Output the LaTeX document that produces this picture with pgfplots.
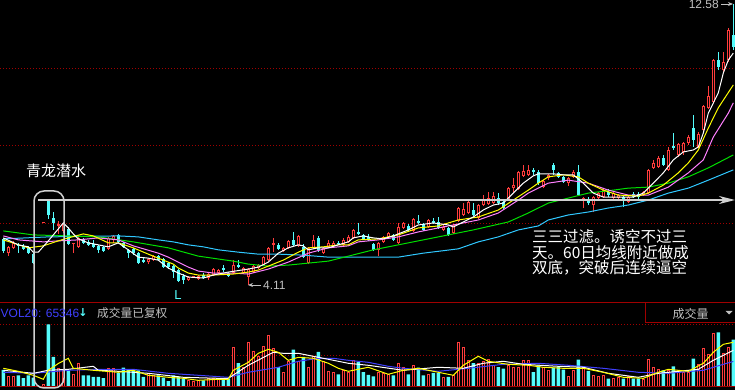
\documentclass[border=0pt]{standalone}
\usepackage{fontspec}
\setmainfont{Liberation Sans}
\newfontfamily\cjk{Noto Sans CJK SC}
\newfontfamily\dejavu{DejaVu Sans}
\usepackage{pgfplots}
\usepackage{pgfplotstable}
\pgfplotsset{compat=1.18}
\usetikzlibrary{arrows.meta}

\definecolor{cup}{HTML}{FF3C3C}
\definecolor{cdn}{HTML}{54FCFC}
\definecolor{mayel}{HTML}{FFFF00}
\definecolor{mamag}{HTML}{FF80FF}
\definecolor{magrn}{HTML}{00E000}
\definecolor{macyn}{HTML}{30C8FF}
\definecolor{dkred}{HTML}{A00000}
\definecolor{volblue}{HTML}{4040FF}
\definecolor{txtgray}{HTML}{C0C0C0}
\definecolor{anngray}{HTML}{D0D0D0}

% down (cyan) candles: index, body low, body high, low, high
\pgfplotstableread{
i bl bh l h
0 5.13 5.50 5.07 5.53
3 5.29 5.32 5.07 5.38
4 5.20 5.29 5.17 5.35
5 5.07 5.26 5.04 5.29
6 4.77 5.04 4.74 5.10
9 6.22 6.64 6.10 6.67
10 5.98 6.13 5.77 6.31
13 5.35 5.80 5.32 5.86
16 5.38 5.50 5.35 5.53
17 5.32 5.41 5.29 5.47
18 5.26 5.35 5.23 5.47
19 5.17 5.29 5.07 5.32
20 5.13 5.26 5.10 5.29
23 5.41 5.62 5.38 5.65
24 5.26 5.38 5.23 5.41
25 5.07 5.17 4.92 5.20
26 5.07 5.20 5.01 5.23
27 4.77 5.07 4.74 5.10
28 4.80 4.86 4.77 4.95
31 4.86 4.98 4.83 5.01
32 4.65 4.89 4.62 4.92
33 4.65 4.77 4.59 4.80
34 4.50 4.68 4.32 4.71
35 4.23 4.56 4.20 4.59
36 4.26 4.38 4.14 4.44
40 4.32 4.41 4.29 4.47
44 4.56 4.62 4.50 4.71
45 4.38 4.47 4.35 4.50
47 4.65 4.71 4.62 4.86
55 5.20 5.32 5.17 5.38
58 5.32 5.47 5.29 5.71
60 4.95 5.26 4.92 5.35
63 5.17 5.53 5.10 5.59
67 5.36 5.39 5.32 5.44
71 5.65 5.71 5.62 5.98
72 5.50 5.62 5.47 5.65
73 5.47 5.56 5.44 5.65
74 5.17 5.35 5.13 5.38
78 5.47 5.62 5.44 5.65
81 5.77 5.89 5.74 5.95
83 5.98 6.04 5.95 6.22
84 5.77 5.95 5.74 5.98
86 5.98 6.04 5.95 6.13
87 5.83 6.01 5.80 6.16
89 5.62 5.83 5.59 5.86
94 6.22 6.37 6.19 6.58
99 6.58 6.73 6.52 6.88
100 6.43 6.61 6.40 6.67
106 7.52 7.58 7.43 7.64
107 7.18 7.52 7.12 7.58
110 7.58 7.73 7.43 7.79
111 7.37 7.49 7.34 7.52
112 7.21 7.37 7.18 7.40
115 6.82 7.52 6.79 7.73
117 6.58 6.70 6.52 6.76
121 6.82 6.91 6.76 7.00
124 6.67 6.76 6.46 6.82
126 6.76 6.85 6.73 6.91
127 6.76 6.85 6.70 6.91
132 7.73 7.94 7.70 8.03
134 8.24 8.30 8.18 8.69
138 8.48 8.84 8.27 9.23
143 10.68 10.89 10.59 11.13
146 11.28 11.65 11.19 12.58
}\dntab

% up (red, hollow) candles
\pgfplotstableread{
i bl bh l h
1 5.07 5.26 4.98 5.29
2 5.23 5.38 5.20 5.44
12 5.74 5.95 5.68 6.01
15 5.26 5.53 5.23 5.56
21 5.20 5.53 5.17 5.56
22 5.47 5.59 5.38 5.62
29 4.80 4.89 4.74 4.92
30 4.86 4.98 4.83 5.01
37 4.26 4.35 4.23 4.38
39 4.29 4.38 4.26 4.41
41 4.32 4.44 4.26 4.47
42 4.41 4.59 4.38 4.62
43 4.47 4.56 4.44 4.59
46 4.47 4.71 4.44 4.86
48 4.47 4.62 4.44 4.65
49 4.35 4.59 4.11 4.62
50 4.50 4.68 4.47 4.71
51 4.62 4.71 4.59 4.74
52 4.71 4.95 4.68 4.98
53 4.86 5.23 4.83 5.26
56 5.13 5.23 5.10 5.26
57 5.23 5.44 5.20 5.47
59 5.29 5.59 5.26 5.62
61 4.77 5.23 4.74 5.26
62 5.23 5.47 5.20 5.62
64 5.07 5.23 5.04 5.26
65 5.26 5.38 5.23 5.47
66 5.29 5.38 5.26 5.44
68 5.32 5.47 5.29 5.53
69 5.41 5.56 5.38 5.62
70 5.53 5.77 5.50 5.80
75 5.17 5.38 4.98 5.41
76 5.41 5.56 5.38 5.59
77 5.56 5.68 5.53 5.71
79 5.38 5.86 5.35 5.98
80 5.83 5.98 5.80 6.01
82 5.74 6.10 5.71 6.13
85 5.86 6.07 5.83 6.10
88 5.77 5.86 5.74 5.92
90 5.68 5.92 5.65 5.95
91 6.04 6.43 6.01 6.46
92 6.22 6.40 6.19 6.58
93 6.28 6.61 6.25 6.64
95 6.13 6.52 6.10 6.55
96 6.52 6.67 6.49 6.82
97 6.55 6.73 6.52 6.91
98 6.58 6.79 6.55 6.91
101 6.67 7.03 6.64 7.06
102 7.03 7.12 6.91 7.34
103 7.00 7.52 6.97 7.55
104 7.40 7.55 7.37 7.73
105 7.43 7.58 7.40 7.73
108 7.06 7.25 7.03 7.27
109 7.34 7.43 7.27 7.46
113 7.18 7.34 7.09 7.37
114 7.37 7.52 7.34 7.58
116 6.67 6.73 6.43 6.76
118 6.52 6.76 6.31 6.79
119 6.73 6.88 6.70 6.91
120 6.76 6.97 6.73 7.00
122 6.73 6.88 6.70 6.91
123 6.73 6.82 6.70 6.85
125 6.61 6.76 6.58 6.79
128 6.82 6.91 6.79 6.94
129 6.88 7.58 6.85 7.61
130 7.64 7.79 7.61 7.88
131 7.67 7.94 7.64 8.00
133 7.58 8.18 7.55 8.27
135 8.03 8.36 7.97 8.39
136 8.12 8.39 8.03 8.42
137 8.39 8.57 8.33 8.63
139 8.27 8.66 8.24 8.72
140 8.78 9.51 8.75 9.54
141 9.45 9.81 9.41 10.11
142 9.63 10.89 9.60 10.92
144 10.59 10.83 10.53 11.13
145 10.89 11.80 10.83 11.86
}\uptab

% up candles with very small bodies (drawn solid)
\pgfplotstableread{
i bl bh l h
8 5.97 6.00 5.97 6.00
11 5.89 5.95 5.65 6.04
14 5.35 5.38 5.07 5.38
38 4.34 4.37 4.32 4.38
54 5.32 5.38 5.10 5.53
}\smtab

\pgfplotstableread{
i v
0 43500
3 29900
4 23000
5 29900
6 23800
9 160300
10 76700
13 42700
16 29900
17 29900
18 25600
19 25600
20 23000
23 35800
24 49300
25 44200
26 42700
27 42700
28 25600
31 29900
32 23800
33 15300
34 29900
35 25600
36 21200
40 17100
44 21200
45 21200
47 61300
55 51100
58 95300
60 76700
63 89500
67 32500
71 63900
72 38300
73 30700
74 27300
78 29900
81 32500
83 49300
84 29900
86 35800
87 35800
89 25600
94 61300
99 51100
100 46800
106 38300
107 55500
110 49300
111 51100
112 44200
115 69800
117 40900
121 21200
124 21200
126 21200
127 21200
132 42700
134 52900
138 72300
143 139800
146 120900
}\dnvol

\pgfplotstableread{
i v
1 27300
2 27300
8 6900
11 46800
12 42700
14 32500
15 59600
21 46800
22 46800
29 34000
30 29900
37 17100
38 12800
39 17100
41 21200
42 21200
43 21200
46 100500
48 51100
49 112500
50 89500
51 76700
52 104000
53 132100
54 97900
56 38300
57 63900
59 63900
61 51100
62 78500
64 63900
65 40100
66 35800
68 42700
69 38300
70 66500
75 38300
76 34000
77 32500
79 59600
80 49300
82 55500
85 32500
88 23800
90 29900
91 115000
92 100500
93 68200
95 61300
96 63900
97 69800
98 55500
101 55500
102 51100
103 51100
104 66500
105 66500
108 51100
109 42700
113 27300
114 42700
116 49300
118 29900
119 25600
120 29900
122 21200
123 23800
125 27300
128 18700
129 69800
130 49300
131 44200
133 42700
135 42700
136 35800
137 38300
139 58000
140 97900
141 83600
142 136200
144 85100
145 100500
}\upvol

\pgfplotsset{kax/.style={scale only axis, width=735bp, xmin=-0.66, xmax=146.34,
  axis line style={draw=none}, xtick=\empty, major tick length=0pt,
  yticklabels={}, ymajorgrids,
  grid style={dkred, dash pattern=on 1bp off 2bp, line width=1bp}, clip=true},
  wick/.style={draw=none, mark=none, error bars/.cd, y dir=plus, y explicit,
  error mark=none, error bar style={draw=#1, line width=1bp}},
  body/.style 2 args={draw=none, mark=none, error bars/.cd, y dir=plus, y explicit,
  error mark=none, error bar style={draw=#1, line width=#2}}}

\begin{document}
\begin{tikzpicture}
\fill[black] (0,0) rectangle (735bp,390bp);

% ---------------- price panel ----------------
\begin{axis}[kax, at={(0,87bp)}, anchor=south west, height=303bp,
  ymin=3.5676, ymax=12.70, ytick={5.949,8.30,10.65}]
% cyan candles
\addplot[wick=cdn] table[x=i, y=l, y error plus expr=\thisrow{h}-\thisrow{l}] {\dntab};
\addplot[body={cdn}{3.6bp}] table[x=i, y=bl, y error plus expr=\thisrow{bh}-\thisrow{bl}] {\dntab};
% red candles
\addplot[wick=cup] table[x=i, y=l, y error plus expr=\thisrow{h}-\thisrow{l}] {\uptab};
\addplot[body={cup}{3.6bp}] table[x=i, y=bl, y error plus expr=\thisrow{bh}-\thisrow{bl}] {\uptab};
\addplot[draw=none, mark=none, error bars/.cd, y dir=plus, y explicit, error mark=none,
  error bar style={draw=black, line width=1.6bp, shorten <=1bp, shorten >=1bp}]
  table[x=i, y=bl, y error plus expr=\thisrow{bh}-\thisrow{bl}] {\uptab};
\addplot[wick=cup] table[x=i, y=l, y error plus expr=\thisrow{h}-\thisrow{l}] {\smtab};
\addplot[body={cup}{3.6bp}] table[x=i, y=bl, y error plus expr=\thisrow{bh}-\thisrow{bl}] {\smtab};
% moving averages
\addplot[macyn, line width=1bp] coordinates {(0,5.50) (9,5.56) (23,5.59) (27,5.56) (31,5.47) (34,5.41) (37,5.32) (40,5.26) (43,5.17) (47,5.10) (51,5.04) (55,5.04) (60,5.01) (65,4.95) (69,4.95) (79,4.95) (84,5.07) (91,5.20) (95,5.41) (99,5.56) (103,5.77) (107,5.89) (109,6.07) (113,6.22) (117,6.31) (121,6.43) (125,6.52) (129,6.67) (133,6.88) (137,7.03) (141,7.27) (146,7.58)};
\addplot[magrn, line width=1bp] coordinates {(0,5.74) (6,5.62) (13,5.59) (19,5.56) (26,5.41) (33,5.23) (39,4.98) (46,4.83) (49,4.74) (53,4.68) (57,4.71) (61,4.77) (65,4.83) (69,4.98) (74,5.17) (81,5.38) (87,5.56) (94,5.77) (101,6.01) (105,6.28) (107,6.43) (109,6.58) (113,6.73) (117,6.88) (122,6.97) (125,7.03) (129,7.06) (133,7.18) (137,7.37) (141,7.64) (146,8.03)};
\addplot[mamag, line width=1bp] coordinates {(0,5.59) (3,5.47) (8,5.41) (11,5.44) (15,5.47) (19,5.53) (23,5.47) (26,5.29) (31,5.07) (33,4.95) (35,4.80) (37,4.65) (39,4.53) (42,4.47) (46,4.47) (49,4.44) (53,4.59) (57,4.80) (61,5.07) (65,5.23) (69,5.29) (71,5.41) (75,5.47) (79,5.56) (83,5.71) (87,5.83) (91,5.95) (95,6.07) (99,6.28) (103,6.67) (105,6.88) (107,7.03) (109,7.18) (113,7.27) (117,7.18) (121,6.97) (125,6.82) (129,6.82) (133,7.06) (137,7.49) (140,7.88) (142,8.57) (145,9.29) (146,9.60)};
\addplot[mayel, line width=1bp] coordinates {(0,5.47) (5,5.23) (8,5.29) (11,5.44) (13,5.53) (16,5.65) (18,5.59) (21,5.38) (23,5.38) (26,5.23) (29,5.04) (31,4.92) (34,4.74) (35,4.62) (37,4.47) (39,4.41) (42,4.41) (46,4.44) (49,4.50) (51,4.56) (53,4.68) (56,4.86) (59,5.10) (61,5.23) (64,5.26) (67,5.32) (69,5.32) (71,5.47) (75,5.50) (79,5.62) (83,5.83) (87,5.89) (91,6.07) (95,6.16) (99,6.37) (102,6.67) (105,6.97) (107,7.18) (109,7.37) (112,7.43) (115,7.37) (117,7.18) (120,6.97) (123,6.82) (127,6.79) (129,6.88) (132,7.12) (135,7.49) (137,7.79) (139,8.18) (141,8.84) (143,9.45) (146,10.14)};
\addplot[white, line width=1bp] coordinates {(0,5.53) (3,5.32) (5,5.26) (6,5.10) (7,5.10) (9,5.44) (10,5.62) (11,5.80) (12,5.98) (13,5.83) (14,5.65) (15,5.50) (17,5.38) (19,5.32) (21,5.26) (23,5.38) (25,5.17) (27,4.95) (29,4.92) (31,4.86) (33,4.62) (35,4.47) (37,4.35) (40,4.32) (42,4.41) (45,4.50) (49,4.59) (51,4.65) (53,4.80) (55,5.07) (57,5.23) (59,5.32) (60,5.29) (61,5.17) (63,5.23) (65,5.23) (67,5.32) (69,5.41) (70,5.53) (72,5.59) (74,5.53) (76,5.50) (78,5.59) (81,5.77) (83,5.92) (86,5.98) (89,5.92) (90,5.86) (92,6.01) (94,6.16) (96,6.37) (98,6.52) (100,6.58) (102,6.88) (104,7.18) (106,7.40) (107,7.46) (110,7.46) (112,7.43) (114,7.43) (116,7.18) (118,6.88) (120,6.76) (122,6.76) (124,6.76) (126,6.76) (128,6.88) (130,7.18) (132,7.49) (134,7.88) (136,8.12) (138,8.18) (139,8.27) (140,8.69) (141,9.29) (143,9.90) (144,10.50) (145,10.89) (146,11.10)};
\end{axis}

% ---------------- volume panel ----------------
\begin{axis}[kax, at={(0,3bp)}, anchor=south west, height=84bp,
  ymin=0, ymax=214704, ytick={80000,160000}]
\addplot[ybar, bar width=3.6bp, bar shift=0pt, fill=cdn, draw=none] table[x=i, y=v] {\dnvol};
\addplot[ybar, bar width=2.6bp, bar shift=0pt, fill=black, draw=cup, line width=1bp] table[x=i, y=v] {\upvol};
\addplot[volblue, line width=1bp] coordinates {(0,37600) (6,35000) (13,42700) (19,45200) (26,45200) (33,35000) (39,29900) (45,24800) (49,37600) (55,50400) (59,65700) (63,73400) (66,73400) (69,68200) (73,63100) (77,52900) (80,47800) (87,40100) (93,47800) (100,58000) (107,60600) (113,55500) (120,47800) (127,37600) (133,35000) (140,42700) (144,58000) (146,65346)};
\addplot[white, line width=1bp] coordinates {(0,42700) (6,35000) (9,42700) (13,45200) (18,52900) (19,42700) (23,40100) (29,35000) (36,24800) (43,22200) (45,22200) (49,55500) (54,88700) (56,86100) (59,86100) (63,75900) (69,60600) (73,55500) (80,42700) (87,50400) (92,47800) (96,60600) (100,65700) (104,58000) (111,52900) (116,50400) (121,35000) (127,24800) (131,35000) (135,40100) (139,45200) (142,68200) (146,93800)};
\addplot[mayel, line width=1bp] coordinates {(0,47800) (3,40100) (6,29900) (8,19700) (9,42700) (11,60000) (13,73400) (14,47800) (18,42700) (23,37600) (26,42700) (29,29900) (33,24800) (36,22200) (39,17100) (43,19700) (45,19700) (46,42700) (49,63100) (51,86100) (53,96400) (55,88700) (57,68200) (59,75900) (62,73400) (65,60600) (67,47800) (69,40100) (73,50400) (77,32500) (80,42700) (83,47800) (87,37600) (90,29900) (92,55500) (95,78500) (97,65700) (101,58000) (105,55500) (108,50400) (112,47800) (116,47800) (120,37600) (124,24800) (128,22200) (131,37600) (133,45200) (137,40100) (140,60600) (142,88700) (144,109100) (146,114300)};
\end{axis}

% ---------------- frame lines and annotations ----------------
\draw[dkred, line width=1bp] (0,87bp) -- (735bp,87bp);
\draw[dkred, line width=1bp] (0,3bp) -- (735bp,3bp);
\draw[dkred, line width=1bp] (645.5bp,87bp) -- (645.5bp,67.5bp) -- (735bp,67.5bp);
\draw[dkred, line width=1bp] (672bp,0bp) -- (672bp,3bp);

\draw[anngray, line width=2bp, -{Stealth[length=16bp, width=8bp, inset=5bp]}] (38bp,190bp) -- (735bp,190bp);
\draw[anngray, line width=1.5bp, rounded corners=10bp] (34bp,2bp) rectangle (64bp,199bp);

\node[text=white, font=\cjk\fontsize{15bp}{15bp}\selectfont, inner sep=0pt] at (56bp,219.5bp) {青龙潜水};
\node[anchor=west, text=white, font=\cjk\fontsize{15.5bp}{15.5bp}\selectfont, inner sep=0pt] at (532bp,153bp) {三三过滤。诱空不过三};
\node[anchor=west, text=white, font=\cjk\fontsize{15.5bp}{15.5bp}\selectfont, inner sep=0pt] at (532bp,137.5bp) {天。60日均线附近做成};
\node[anchor=west, text=white, font=\cjk\fontsize{15.5bp}{15.5bp}\selectfont, inner sep=0pt] at (532bp,122bp) {双底，突破后连续逼空};

\node[text=cdn, font=\fontsize{13bp}{13bp}\selectfont, inner sep=0pt] at (178bp,95bp) {L};
\draw[txtgray, line width=0.8bp, -{Stealth[length=5bp, width=4bp]}] (261bp,105bp) -- (248bp,105bp);
\node[anchor=west, text=txtgray, font=\fontsize{12bp}{12bp}\selectfont, inner sep=0pt] at (263bp,104.5bp) {4.11};
\node[anchor=east, text=txtgray, font=\fontsize{12bp}{12bp}\selectfont, inner sep=0pt] at (719bp,385.5bp) {12.58};
\draw[txtgray, line width=0.8bp, -{Stealth[length=5bp, width=4bp]}] (721bp,386bp) -- (733bp,386bp);

\node[anchor=west, text=volblue, font=\fontsize{12bp}{12bp}\selectfont, inner sep=0pt] at (0.5bp,77bp) {VOL20: 65346};
\node[text=cdn, font=\dejavu\bfseries\fontsize{11bp}{11bp}\selectfont, inner sep=0pt] at (83bp,77bp) {↓};
\node[anchor=west, text=txtgray, font=\cjk\fontsize{11.7bp}{11.7bp}\selectfont, inner sep=0pt] at (97bp,77bp) {成交量已复权};
\node[text=txtgray, font=\cjk\fontsize{12bp}{12bp}\selectfont, inner sep=0pt] at (690.5bp,76.5bp) {成交量};
\fill[txtgray] (725.5bp,79bp) -- (732.5bp,79bp) -- (729bp,75.5bp) -- cycle;

\pgfresetboundingbox
\path[use as bounding box] (0,0) rectangle (735bp,390bp);
\end{tikzpicture}
\end{document}
